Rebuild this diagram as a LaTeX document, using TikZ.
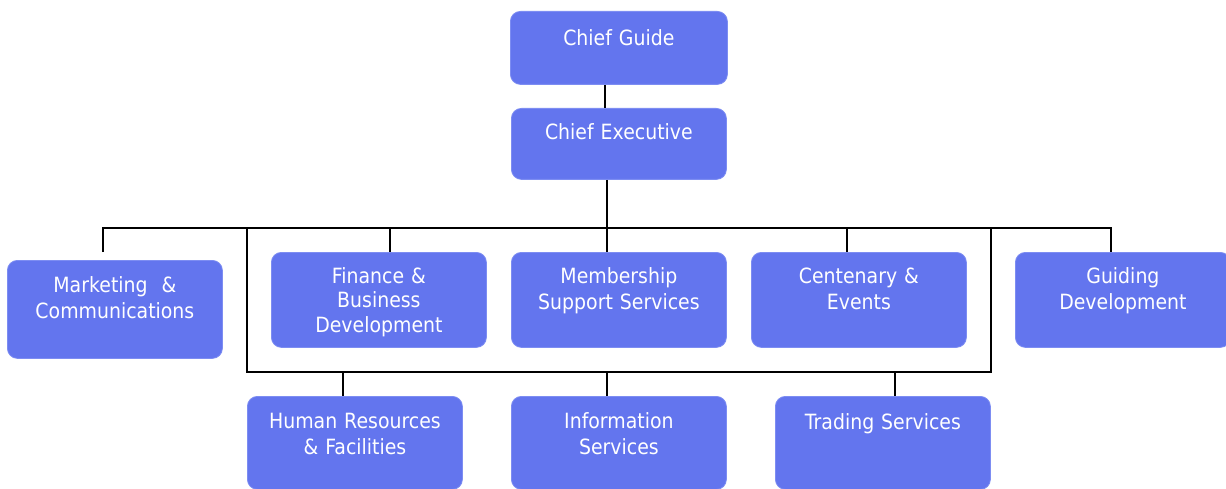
\documentclass[tikz,border=0pt]{standalone}
\usepackage{fontspec}
\setmainfont{DejaVu Sans}[FakeStretch=0.9]
\definecolor{boxblue}{RGB}{99,117,238}
\definecolor{boxedge}{RGB}{125,141,242}
\begin{document}
\begin{tikzpicture}[x=1pt,y=-1pt,
  box/.style={draw=boxedge, line width=0.8pt, fill=boxblue, rounded corners=10pt, inner sep=0pt, anchor=north west, minimum width=215pt},
  lbl/.style={text=white, font=\fontsize{21}{26}\selectfont, text width=214pt, align=center, anchor=base, inner sep=0pt},
  lbltight/.style={lbl, font=\fontsize{21}{24.5}\selectfont},
  conn/.style={line width=2pt, black}]
\path[use as bounding box] (0,0) rectangle (1226,489);
\clip (0,0) rectangle (1226,489);
% boxes
\node[box, minimum width=217pt, minimum height=73pt] (cg) at (510,11) {};
\node[box, minimum height=71pt] (ce) at (511,108) {};
\node[box, minimum height=98pt] (mk) at (7,260) {};
\node[box, minimum height=95pt] (fin) at (271,252) {};
\node[box, minimum height=95pt] (mem) at (511,252) {};
\node[box, minimum height=95pt] (cen) at (751,252) {};
\node[box, minimum height=95pt] (gd) at (1015,252) {};
\node[box, minimum height=93pt] (hr) at (247,396) {};
\node[box, minimum height=93pt] (inf) at (511,396) {};
\node[box, minimum height=93pt] (trd) at (775,396) {};
% labels
\node[lbl] (cgt) at ([yshift=-35pt]cg.north) {Chief Guide};
\node[lbl] (cet) at ([yshift=-32pt]ce.north) {Chief Executive};
\node[lbl] (mkt) at ([yshift=-32pt]mk.north) {Marketing~~\&\\Communications};
\node[lbltight] (fint) at ([yshift=-31pt]fin.north) {Finance \&\\Business\\Development};
\node[lbl] (memt) at ([yshift=-31pt]mem.north) {Membership\\Support Services};
\node[lbl] (cent) at ([yshift=-31pt]cen.north) {Centenary \&\\Events};
\node[lbl] (gdt) at ([yshift=-31pt]gd.north) {Guiding\\Development};
\node[lbl] (hrt) at ([yshift=-32pt]hr.north) {Human Resources\\\& Facilities};
\node[lbl] (inft) at ([yshift=-32pt]inf.north) {Information\\Services};
\node[lbl] (trdt) at ([yshift=-33pt]trd.north) {Trading Services};
% coordinates
\coordinate (c0) at (605,84);
\coordinate (bus) at (607,228);
\coordinate (hL) at (103,228);
\coordinate (hR) at (1111,228);
\coordinate (mkend) at (103,252);
\coordinate (bL) at (247,228);
\coordinate (bR) at (991,228);
\coordinate (bLb) at (247,372);
\coordinate (bRb) at (991,372);
\coordinate (t1) at (390,228);
\coordinate (t2) at (607,228);
\coordinate (t3) at (847,228);
\coordinate (u1) at (343,372);
\coordinate (u2) at (607,372);
\coordinate (u3) at (895,372);
% connectors
\draw[conn] (c0 |- cg.south) -- (c0 |- ce.north);
\draw[conn] (bus |- ce.south) -- (bus);
\draw[conn] (mkend) -- (hL) -- (hR) -- (hR |- gd.north);
\draw[conn] (bL) -- (bLb) -- (bRb) -- (bR);
\draw[conn] (t1) -- (t1 |- fin.north);
\draw[conn] (t2) -- (t2 |- mem.north);
\draw[conn] (t3) -- (t3 |- cen.north);
\draw[conn] (u1) -- (u1 |- hr.north);
\draw[conn] (u2) -- (u2 |- inf.north);
\draw[conn] (u3) -- (u3 |- trd.north);
\end{tikzpicture}
\end{document}
